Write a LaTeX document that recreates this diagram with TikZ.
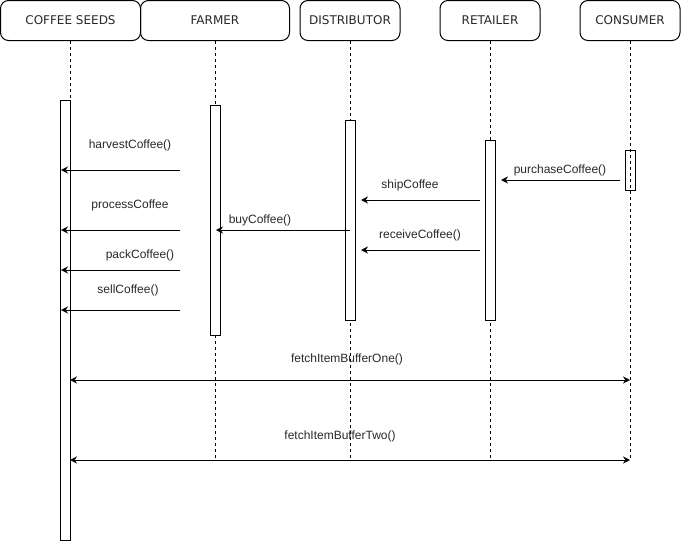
\documentclass[tikz,border=0pt]{standalone}
\usepackage{fontspec}
\setmainfont{Liberation Sans}
\newfontfamily\hdrfont{DejaVu Sans}
\usetikzlibrary{arrows.meta}
\definecolor{txt}{RGB}{40,40,40}
\begin{document}
\begin{tikzpicture}[x=1pt,y=-1pt,
  header/.style={draw, rounded corners=8pt, line width=1pt, minimum height=40pt, inner sep=0pt, font=\hdrfont\fontsize{12}{14}\selectfont, text=txt},
  life/.style={dash pattern=on 3pt off 3pt, line width=0.9pt},
  act/.style={draw, fill=white, line width=1pt, minimum width=10pt, inner sep=0pt},
  actopen/.style={draw, line width=1pt, minimum width=10pt, inner sep=0pt},
  msg/.style={line width=1pt, -{Stealth[length=7pt,width=7pt]}},
  dmsg/.style={line width=1pt, {Stealth[length=7pt,width=7pt]}-{Stealth[length=7pt,width=7pt]}},
  lbl/.style={font=\fontsize{12}{14}\selectfont, text=txt, inner sep=0pt}]
\useasboundingbox (0,0) rectangle (681,541);
% headers
\node[header, minimum width=140pt] (cs) at (70.5,20.5) {COFFEE SEEDS};
\node[header, minimum width=149pt] (fa) at (215,20.5) {FARMER};
\node[header, minimum width=100pt] (di) at (350,20.5) {DISTRIBUTOR};
\node[header, minimum width=100pt] (re) at (490,20.5) {RETAILER};
\node[header, minimum width=100pt] (co) at (630,20.5) {CONSUMER};
% lifeline ends
\coordinate (csE) at (70,100);
\coordinate (faE) at (215,460);
\coordinate (diE) at (350,460);
\coordinate (reE) at (490,460);
\coordinate (coE) at (630,460);
\draw[life] (cs.south -| csE) -- (csE);
\draw[life] (fa.south) -- (faE);
\draw[life] (di.south) -- (diE);
\draw[life] (re.south) -- (reE);
\draw[life] (co.south) -- (coE);
% activations
\node[act, minimum height=440pt] (aCS) at (65,320) {};
\node[act, minimum height=230pt] (aFA) at (215,220) {};
\node[act, minimum height=200pt] (aDI) at (350,220) {};
\node[act, minimum height=180pt] (aRE) at (490,230) {};
\node[actopen, minimum height=40pt] (aCO) at (630,170) {};
% message end points
\coordinate (h1) at (180,170); \coordinate (h2) at (61,170);
\coordinate (p1) at (620,180); \coordinate (p2) at (501,180);
\coordinate (s1) at (480,200); \coordinate (s2) at (361,200);
\coordinate (b1) at (350,230); \coordinate (b2) at (216,230);
\coordinate (pr1) at (180,230); \coordinate (pr2) at (61,230);
\coordinate (r1) at (480,250); \coordinate (r2) at (361,250);
\coordinate (pk1) at (180,270); \coordinate (pk2) at (61,270);
\coordinate (sl1) at (180,310); \coordinate (sl2) at (61,310);
\coordinate (f1a) at (70,380); \coordinate (f1b) at (630,380);
\coordinate (f2a) at (70,460); \coordinate (f2b) at (630,460);
\draw[msg] (h1) -- (h2);
\draw[msg] (p1) -- (p2);
\draw[msg] (s1) -- (s2);
\draw[msg] (b1) -- (b2);
\draw[msg] (pr1) -- (pr2);
\draw[msg] (r1) -- (r2);
\draw[msg] (pk1) -- (pk2);
\draw[msg] (sl1) -- (sl2);
\draw[dmsg] (f1a) -- (f1b);
\draw[dmsg] (f2a) -- (f2b);
% labels
\node[lbl] (lh) at (130,145) {harvestCoffee()};
\node[lbl] (lp) at (560,170) {purchaseCoffee()};
\node[lbl] (ls) at (410,185) {shipCoffee};
\node[lbl] (lb) at (260,220) {buyCoffee()};
\node[lbl] (lpr) at (130,205) {processCoffee};
\node[lbl] (lr) at (420,235) {receiveCoffee()};
\node[lbl] (lpk) at (140,255) {packCoffee()};
\node[lbl] (lsl) at (128,290) {sellCoffee()};
\node[lbl] (lf1) at (347,359) {fetchItemBufferOne()};
\node[lbl] (lf2) at (340,436) {fetchItemBufferTwo()};
\end{tikzpicture}
\end{document}
